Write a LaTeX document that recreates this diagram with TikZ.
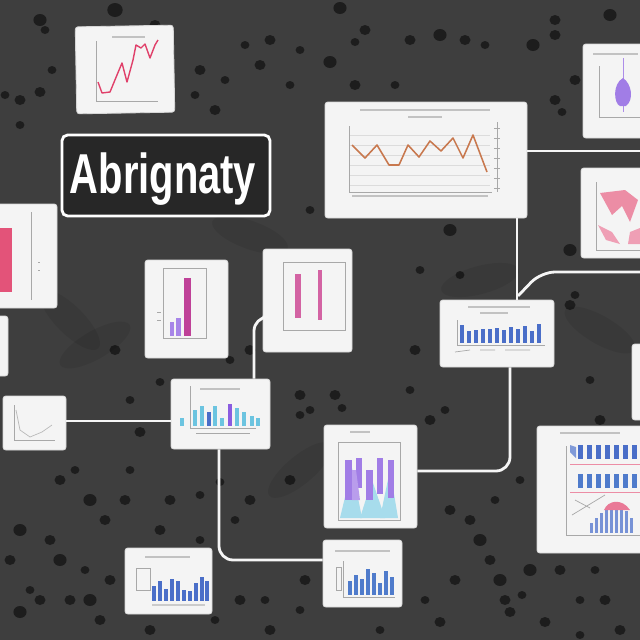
\documentclass[tikz,border=0pt]{standalone}
\usepackage{fontspec}
\setmainfont{Liberation Sans}
\usepackage{graphicx}
\definecolor{bg}{HTML}{3E3E3E}
\definecolor{blot}{HTML}{181818}
\definecolor{cardfill}{HTML}{F4F4F4}
\definecolor{cardline}{HTML}{D6D6D6}
\definecolor{titlefill}{HTML}{272727}
\definecolor{pinkred}{HTML}{E0406A}
\definecolor{orangebr}{HTML}{C8784E}
\definecolor{barblue}{HTML}{4A6EC8}
\definecolor{barcyan}{HTML}{6CC4E0}
\definecolor{violet}{HTML}{8A5CE0}
\definecolor{magenta}{HTML}{C83C8C}
\definecolor{axisgray}{HTML}{A8A8A8}
\tikzset{
  card/.style={draw=cardline, fill=cardfill, line width=0.6pt, rounded corners=2pt, inner sep=0pt},
  sz/.style 2 args={minimum width=#1*0.025cm, minimum height=#2*0.025cm},
  titlebox/.style={draw=white, fill=titlefill, line width=2pt, rounded corners=4pt, inner sep=0pt},
  link/.style={draw=white!92!gray, line width=2pt, rounded corners=10pt},
  frame/.style={draw=axisgray, line width=0.4pt},
  ttl/.style={draw=axisgray!70, line width=1pt},
}
\begin{document}
\begin{tikzpicture}[x=0.025cm, y=-0.025cm]
\useasboundingbox (0,0) rectangle (640,640);
\clip (0,0) rectangle (640,640);
\fill[bg] (0,0) rectangle (640,640);
% texture blots
\foreach \bx/\by/\br in {40/20/6,115/10/7,155/25/5,270/40/5,340/8/6,365/30/5,300/50/4,330/62/6,200/70/5,195/95/4,245/45/4,260/65/5,290/85/4,225/80/4,215/110/5,410/40/5,355/85/5,355/42/4,395/85/4,440/35/6,465/40/5,485/45/4,533/45/6,555/35/5,555/20/5,575/80/5,555/100/5,562/112/4,610/15/6,20/100/5,45/30/4,40/92/5,20/125/4,5/95/4,52/70/4,
60/480/5,75/470/4,90/500/6,125/500/5,130/470/4,105/520/5,20/530/6,50/540/5,60/560/6,70/600/5,90/600/6,100/620/5,110/580/5,85/570/4,40/600/5,20/612/6,10/560/5,30/590/4,170/500/5,200/495/4,160/530/5,200/540/4,235/520/4,250/500/5,240/600/5,215/620/4,265/600/4,270/630/5,300/610/4,305/580/5,450/510/5,470/520/5,480/540/6,495/500/4,490/560/5,520/480/4,500/580/6,505/600/5,455/580/5,425/600/4,440/622/5,510/612/5,522/595/4,530/570/6,560/570/5,595/570/4,605/600/5,580/600/4,545/622/5,605/525/5,610/500/4,250/350/5,230/360/4,160/382/4,115/350/5,300/395/5,300/415/4,335/395/5,342/408/4,310/410/4,520/330/5,570/305/5,590/380/4,570/250/6,575/295/4,600/420/5,585/470/4,420/270/4,460/275/4,450/230/6,415/350/5,410/390/4,390/440/4,430/420/5,310/210/4,315/310/4,322/322/4,130/400/4,140/432/5,220/482/4,290/480/5,445/410/4,620/630/5,580/635/4,380/630/4,150/630/5}
  {\fill[blot, opacity=0.85] (\bx,\by) ellipse ({\br*0.025cm*1.1} and {\br*0.025cm});}
% leaf-like darker patches
\foreach \lx/\ly/\la in {95/345/30,250/235/-20,300/470/40,600/330/-30,480/280/15,70/320/-45}
  {\fill[black, opacity=0.08, rotate around={\la:(\lx,\ly)}] (\lx,\ly) ellipse (1.0cm and 0.35cm);}

% ---------- connectors ----------
\coordinate (r1) at (640,151);
\coordinate (j1) at (517,272);
\coordinate (j2) at (518,296);
\coordinate (j3) at (541,272);
\coordinate (r2) at (640,272);
\coordinate (j4) at (510,471);
\coordinate (h1) at (0,421);
\coordinate (j5) at (254,317);
\coordinate (j6) at (219,560);

% ---------- cards (nodes) ----------
\node[card, sz={98}{87}, rotate=1] (c1) at (125,69.5) {};
\node[card, sz={60}{94}] (c3) at (613,91) {};
\node[card, sz={202}{116}] (c4) at (426,160) {};
\node[card, sz={62}{90}] (c5) at (612,213) {};
\node[card, sz={60}{104}] (c6) at (27,256) {};
\node[card, sz={12}{60}] (c7) at (2,346) {};
\node[card, sz={83}{98}] (c8) at (186.5,309) {};
\node[card, sz={89}{103}] (c9) at (307.5,300.5) {};
\node[card, sz={114}{67}] (c10) at (497,333.5) {};
\node[card, sz={63}{54}] (c11) at (34.5,423) {};
\node[card, sz={99}{70}] (c12) at (220.5,414) {};
\node[card, sz={93}{103}] (c13) at (370.5,476.5) {};
\node[card, sz={106}{127}] (c14) at (590,489.5) {};
\node[card, sz={87}{66}] (c15) at (168.5,581) {};
\node[card, sz={79}{67}] (c16) at (362.5,573.5) {};
\node[card, sz={14}{76}] (c17) at (639,382) {};
\node[titlebox, sz={208}{81}] (title) at (166,175.5) {};
\node[text=white, font=\fontsize{40}{40}\selectfont\bfseries, inner sep=0pt] (titletext) at (163,179)
  {\scalebox{0.71}[1]{Abrignaty}};

\draw[link] (c4.east |- r1) -- (r1);
\draw[link] (c4.south -| j1) -- (c10.north -| j1);
\draw[link] (j2) -- (j3) -- (r2);
\draw[link] (c10.south -| j4) -- (j4) -- (c13.east |- j4);
\draw[link] (c11.east |- h1) -- (c12.west |- h1);
\draw[link] (c12.north -| j5) -- (j5) -- (c9.west |- j5);
\draw[link] (c12.south -| j6) -- (j6) -- (c16.west |- j6);

% ---------- chart contents ----------
% c1 line chart
\draw[ttl] (112,37) -- (145,37);
\draw[frame] (96,41) -- (96,101) -- (158,101);
\draw[pinkred, line width=1pt, line join=round] (98,82) -- (102,93) -- (110,92) -- (117,75) -- (122,63) -- (127,82) -- (133,60) -- (136,45) -- (141,48) -- (145,44) -- (150,58) -- (155,45) -- (158,40);
% c3 violin
\draw[ttl] (593,54) -- (638,54);
\draw[frame] (599,66) -- (599,117) -- (640,117);
\draw[violet!70, line width=0.5pt] (623,58) -- (623,112);
\fill[violet!80] (623,78) .. controls (612,84) and (614,104) .. (620,106) -- (626,106) .. controls (634,100) and (632,84) .. (623,78);
% c4 big line chart
\draw[ttl] (360,110) -- (490,110);
\draw[ttl] (408,117) -- (442,117);
\foreach \gy in {135,145,155,165,175,185} {\draw[axisgray!40, line width=0.3pt] (349,\gy) -- (490,\gy);}
\draw[frame] (349,126) -- (349,192) -- (492,192);
\draw[frame] (497,122) -- (497,192);
\foreach \ty in {128,138,148,158,168,178,188} {\draw[axisgray] (494,\ty) -- (500,\ty);}
\draw[ttl] (352,196) -- (488,196);
\draw[orangebr, line width=1.1pt, line join=round] (352,145) -- (365,158) -- (377,145) -- (389,165) -- (399,165) -- (408,145) -- (419,157) -- (430,141) -- (441,151) -- (453,138) -- (463,158) -- (473,135) -- (487,172);
% c5 red leaves
\draw[frame] (596,182) -- (596,250) -- (640,250);
\fill[pinkred!60] (600,193) -- (625,190) -- (638,200) -- (630,222) -- (622,206) -- (612,215) -- cycle;
\fill[pinkred!50] (598,225) -- (612,232) -- (620,244) -- (606,240) -- cycle;
\fill[pinkred!50] (630,232) -- (640,228) -- (640,244) -- (628,244) -- cycle;
% c6 pink bar
\draw[frame] (31,212) -- (31,300);
\fill[pinkred!90] (0,228) rectangle (12,292);
\draw[frame] (38,262) -- (40,262) (38,270) -- (40,270);
% c8 magenta bar
\draw[frame] (163,268) rectangle (206,338);
\fill[magenta!85!violet] (184,278) rectangle (191,336);
\fill[violet!75] (170,322) rectangle (174,336);
\fill[violet!75] (176,318) rectangle (181,336);
\draw[frame] (157,312) -- (161,312) (157,320) -- (161,320);
% c9 pink bars
\draw[frame] (283,262) rectangle (345,330);
\fill[magenta!80] (295,274) rectangle (301,318);
\fill[magenta!80] (318,270) rectangle (322,320);
% c10 blue bars
\draw[ttl] (468,307) -- (530,307);
\draw[ttl] (480,313) -- (508,313);
\draw[frame] (457,320) -- (457,345) -- (545,345);
\foreach \bx/\bh in {460/18,467/12,474/13,481/14,488/14,495/15,502/13,509/16,516/14,523/17,530/12,537/19}
  {\fill[barblue] (\bx,343) rectangle ++(4,-\bh);}
\draw[axisgray, line width=0.5pt] (455,352) -- (470,350) (480,350) -- (495,350) (505,350) -- (530,350);
% c11 faint line chart
\draw[frame] (14,405) -- (14,440) -- (55,440);
\draw[axisgray!80, line width=0.5pt] (16,410) -- (20,430) -- (30,437) -- (42,432) -- (52,425);
% c12 bars
\draw[frame] (190,386) -- (190,428) -- (256,428);
\draw[ttl] (200,389) -- (240,389);
\foreach \bx/\bh/\bc in {180/8/barcyan,193/16/barcyan,200/20/barcyan,207/14/barblue,213/20/barcyan,220/8/barcyan,228/22/violet,235/18/barcyan,242/14/barcyan,250/10/barcyan,256/8/barcyan}
  {\fill[\bc] (\bx,426) rectangle ++(4,-\bh);}
\draw[axisgray, line width=0.5pt] (196,433) -- (250,433);
% c13 purple shapes
\draw[ttl] (350,432) -- (370,432);
\draw[frame] (338,442) rectangle (400,520);
\fill[barcyan!60] (340,518) -- (352,468) -- (362,518) -- cycle;
\fill[barcyan!60] (360,518) -- (372,480) -- (385,518) -- cycle;
\fill[barcyan!60] (380,518) -- (390,470) -- (398,518) -- cycle;
\fill[violet!80] (345,460) rectangle (352,500);
\fill[violet!80] (356,458) rectangle (362,488);
\fill[violet!80] (366,470) rectangle (373,500);
\fill[violet!80] (377,458) rectangle (383,494);
\fill[violet!80] (388,460) rectangle (394,498);
\fill[violet!60] (352,470) -- (356,470) -- (360,500) -- (352,500) -- cycle;
% c14 bar rows and cluster
\draw[ttl] (560,433) -- (620,433);
\draw[frame] (566,446) -- (566,535) -- (640,535);
\foreach \bx in {578,587,596,605,614,623,632}
  {\fill[barblue] (\bx,445) rectangle ++(5,14);
   \fill[barblue!85!barcyan] (\bx,474) rectangle ++(5,14);}
\fill[barblue!70] (570,445) -- (576,447) -- (576,458) -- (570,452) -- cycle;
\draw[pinkred!60, line width=0.4pt] (570,464) -- (640,464) (570,492) -- (640,492);
\draw[axisgray, line width=0.5pt] (572,515) -- (605,495) (575,500) -- (590,508);
\foreach \bx/\bh in {590/10,595/15,600/20,605/25,610/28,615/30,620/27,625/22,630/15}
  {\fill[barblue!75] (\bx,533) rectangle ++(3,-\bh);}
\fill[pinkred!70] (604,510) .. controls (608,500) and (622,498) .. (630,510) -- cycle;
% c15 bars
\draw[ttl] (145,557) -- (190,557);
\draw[frame] (136,568) rectangle (150,590);
\foreach \bx/\bh in {152/15,158/20,164/12,170/22,176/20,182/11,188/10,194/18,200/24,205/20}
  {\fill[barblue] (\bx,601) rectangle ++(4,-\bh);}
\draw[axisgray!60, line width=1.5pt] (152,605) -- (205,605);
% c16 bars
\draw[ttl] (335,551) -- (390,551);
\draw[frame] (343,561) -- (343,597) -- (395,597);
\foreach \bx/\bh in {348/14,354/20,360/16,366/26,372/22,378/12,384/24,390/18}
  {\fill[barblue!85!barcyan] (\bx,595) rectangle ++(4,-\bh);}
\draw[frame] (336,567) rectangle (341,590);
\end{tikzpicture}
\end{document}
